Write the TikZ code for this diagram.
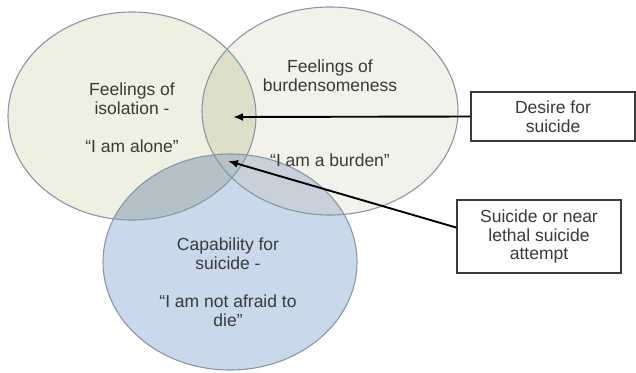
\documentclass[tikz,border=0pt]{standalone}
\usepackage{fontspec}
\setmainfont{Liberation Sans}
\usetikzlibrary{arrows.meta,calc}
\definecolor{cL}{HTML}{EEF0E1}
\definecolor{cR}{HTML}{F3F2EA}
\definecolor{cB}{HTML}{C9D8EB}
\definecolor{cLR}{HTML}{DDDFC8}
\definecolor{cLB}{HTML}{B4C2C8}
\definecolor{cRB}{HTML}{C8D1D9}
\definecolor{cLRB}{HTML}{B5C2C6}
\definecolor{edge}{HTML}{8797A5}
\definecolor{txt}{HTML}{3A3A3A}
\tikzset{
  lbl/.style={text=txt, align=center, font=\fontsize{17.5bp}{19bp}\selectfont, inner sep=0pt},
  boxnode/.style={draw=txt, line width=1.1bp, fill=white, inner sep=0pt, align=center,
     text=txt, font=\fontsize{17.5bp}{18.5bp}\selectfont},
  arr/.style={line width=1.9bp, black, -{Latex[length=10bp,width=8bp]}},
  ring/.style={draw=edge, line width=1.1bp}
}
\begin{document}
\begin{tikzpicture}[x=1bp,y=-1bp]
\useasboundingbox (0,0) rectangle (636,372);
% ellipse geometry
\def\EL{(132,116) ellipse [x radius=124, y radius=104]}
\def\ER{(330,111) ellipse [x radius=128, y radius=104]}
\def\EB{(230,262) ellipse [x radius=127, y radius=108]}
\fill[cL] \EL;
\fill[cR] \ER;
\fill[cB] \EB;
\begin{scope}
  \clip \EL;
  \fill[cLR] \ER;
  \fill[cLB] \EB;
  \clip \ER;
  \fill[cLRB] \EB;
\end{scope}
\begin{scope}
  \clip \ER;
  \clip \EB;
  \fill[cRB] \EB;
  \clip \EL;
  \fill[cLRB] \EB;
\end{scope}
\draw[ring] \EL;
\draw[ring] \ER;
\draw[ring] \EB;
% texts
\node[lbl] (iso) at (132,118) {Feelings of\\isolation -\\[19bp]\textquotedblleft I am alone\textquotedblright};
\node[lbl] (bur) at (330,76) {Feelings of\\burdensomeness};
\node[lbl] (burq) at (330,160) {\textquotedblleft I am a burden\textquotedblright};
\node[lbl] (cap) at (228,282) {Capability for\\suicide -\\[19bp]\textquotedblleft I am not afraid to\\die\textquotedblright};
% boxes
\node[boxnode, minimum width=164bp, minimum height=49bp] (des) at (553,116.5) {Desire for\\suicide};
\node[boxnode, minimum width=164bp, minimum height=73bp] (att) at (539,236.5) {Suicide or near\\lethal suicide\\attempt};
\coordinate (t1) at (233,117);
\coordinate (t2) at (228,161);
\draw[arr] (des.west) -- (t1);
\draw[arr] ($(att.north west)!0.38!(att.south west)$) -- (t2);
\end{tikzpicture}
\end{document}
